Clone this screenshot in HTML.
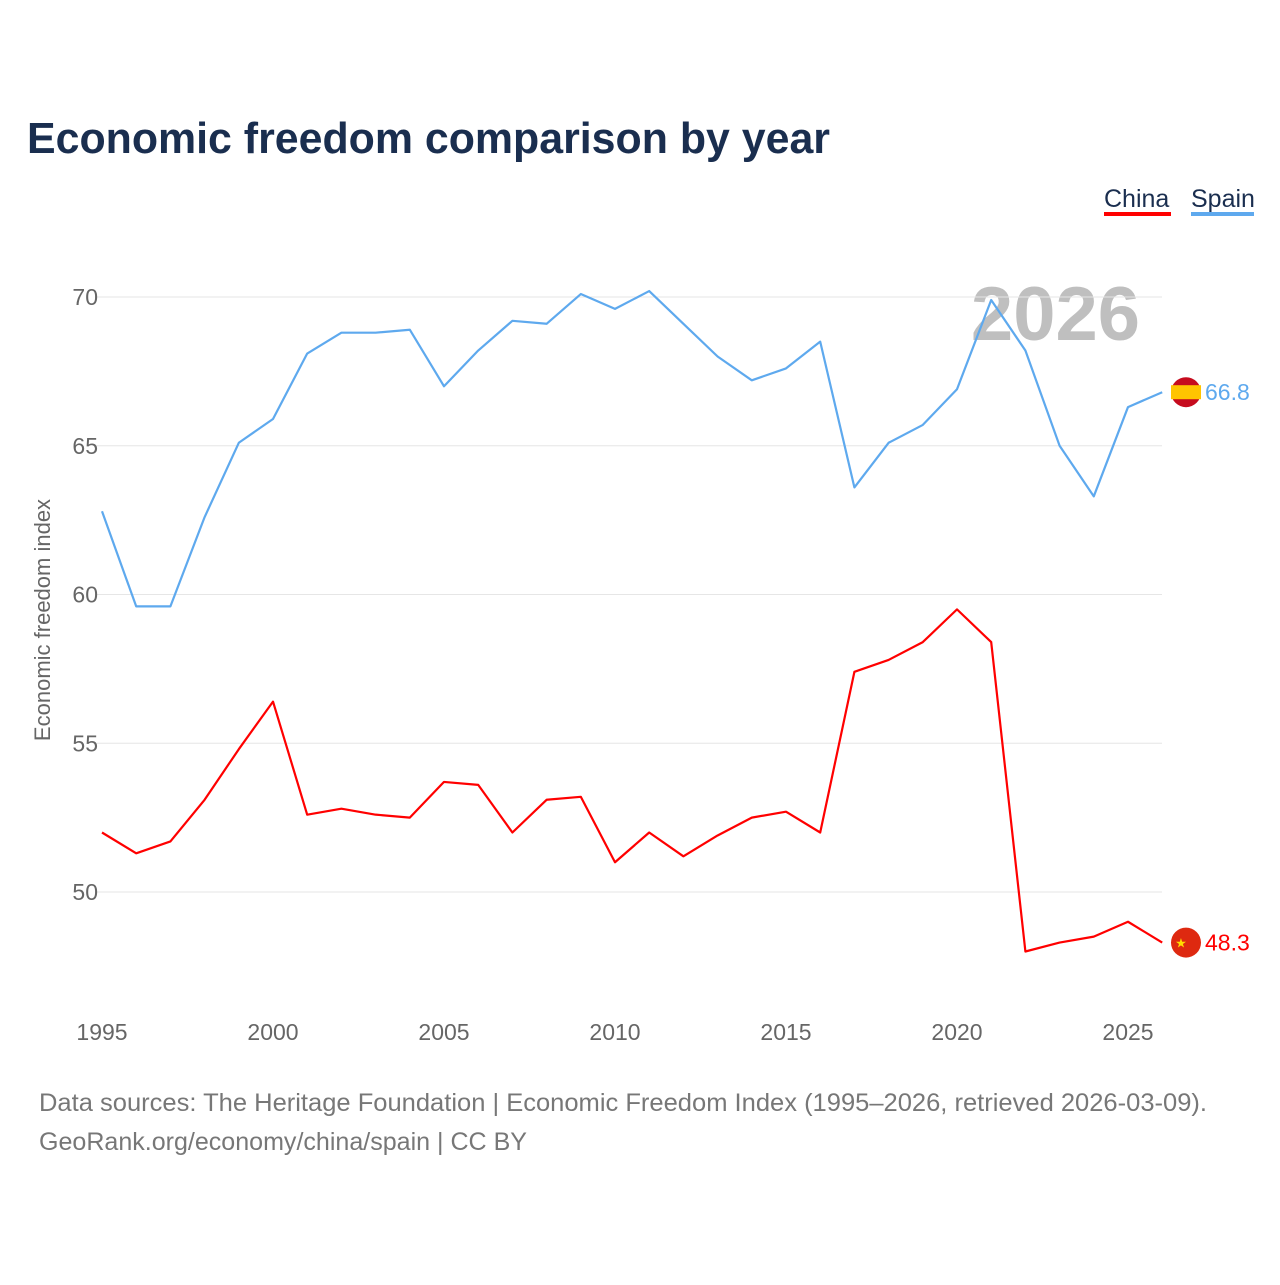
<!DOCTYPE html>
<html><head><meta charset="utf-8">
<style>
body{margin:0;background:#fff;width:1280px;height:1280px;overflow:hidden;font-family:"Liberation Sans",sans-serif;}
</style></head>
<body>
<svg id="chart" width="1280" height="1280" xmlns="http://www.w3.org/2000/svg">
<text x="27" y="153" font-size="44" font-weight="bold" fill="#1a2e4f" textLength="803" lengthAdjust="spacingAndGlyphs" font-family="Liberation Sans, sans-serif">Economic freedom comparison by year</text>
<g>
<text x="1104" y="207" font-size="25" fill="#1a2e4f">China</text>
<rect x="1104" y="212" width="67" height="4" fill="#ff0000"/>
<text x="1191" y="207" font-size="25" fill="#1a2e4f">Spain</text>
<rect x="1191" y="212" width="63" height="4" fill="#5ea9ee"/>
</g>
<text x="1140" y="340" text-anchor="end" font-size="76" font-weight="bold" fill="#bfbfbf">2026</text>
<text transform="translate(50,620) rotate(-90)" text-anchor="middle" font-size="22" fill="#666">Economic freedom index</text>
<g id="grid"></g><g id="lines"></g><g id="labels"></g>
<text x="39" y="1111" font-size="25" fill="#777" textLength="1168" lengthAdjust="spacingAndGlyphs">Data sources: The Heritage Foundation | Economic Freedom Index (1995–2026, retrieved 2026-03-09).</text>
<text x="39" y="1150" font-size="25" fill="#777" textLength="488" lengthAdjust="spacingAndGlyphs">GeoRank.org/economy/china/spain | CC BY</text>
</svg>
<script>
const years=[1995,1996,1997,1998,1999,2000,2001,2002,2003,2004,2005,2006,2007,2008,2009,2010,2011,2012,2013,2014,2015,2016,2017,2018,2019,2020,2021,2022,2023,2024,2025,2026];
const spain=[62.8,59.6,59.6,62.6,65.1,65.9,68.1,68.8,68.8,68.9,67.0,68.2,69.2,69.1,70.1,69.6,70.2,69.1,68.0,67.2,67.6,68.5,63.6,65.1,65.7,66.9,69.9,68.2,65.0,63.3,66.3,66.8];
const china=[52.0,51.3,51.7,53.1,54.8,56.4,52.6,52.8,52.6,52.5,53.7,53.6,52.0,53.1,53.2,51.0,52.0,51.2,51.9,52.5,52.7,52.0,57.4,57.8,58.4,59.5,58.4,48.0,48.3,48.5,49.0,48.3];
const yTicks=[50,55,60,65,70];
const xTicks=[1995,2000,2005,2010,2015,2020,2025];
const NS="http://www.w3.org/2000/svg";
const x=v=>102+(v-1995)*(1128-102)/30;
const y=v=>892-(v-50)*(892-297)/20;
function mk(t,a,p){const e=document.createElementNS(NS,t);for(const k in a)e.setAttribute(k,a[k]);p.appendChild(e);return e;}
const grid=document.getElementById('grid'),lines=document.getElementById('lines'),labels=document.getElementById('labels');
yTicks.forEach(t=>{
 const l=mk('line',{x1:95,x2:1162,y1:y(t),y2:y(t),stroke:'#e6e6e6','stroke-width':1},grid);
 
 
 const tx=mk('text',{x:98,y:y(t)+8,'text-anchor':'end','font-size':23,fill:'#666'},grid);
 tx.textContent=t;
 
 
});
xTicks.forEach(t=>{
 const tx=mk('text',{x:x(t),y:1040,'text-anchor':'middle','font-size':23,fill:'#666'},grid);
 tx.textContent=t;
 
 
});
function series(vals,color,name,flag){
 const p=mk('polyline',{points:vals.map((v,i)=>x(years[i])+','+y(v)).join(' '),fill:'none',stroke:color,'stroke-width':2.2,'stroke-linejoin':'round'},lines);
 
 
 const last=vals[vals.length-1];
 const g=mk('g',{},labels);
 
 
 const cx=1186,cy=y(last);
 if(flag==='es'){
  mk('circle',{cx:cx,cy:cy,r:15,fill:'#c60b1e'},g);
  mk('rect',{x:cx-15,y:cy-7,width:30,height:14,fill:'#ffc400'},g);
 } else {
  mk('circle',{cx:cx,cy:cy,r:15,fill:'#de2910'},g);
  const s=mk('text',{x:cx-5,y:cy+5,'text-anchor':'middle','font-size':13,fill:'#ffde00'},g);s.textContent='★';
 }
 const t=mk('text',{x:1205,y:cy+8,'font-size':23,fill:color},g);
 t.textContent=last.toFixed(1);
}
series(spain,'#5ea9ee','spain','es');
series(china,'#ff0000','china','cn');
</script>
</body></html>
